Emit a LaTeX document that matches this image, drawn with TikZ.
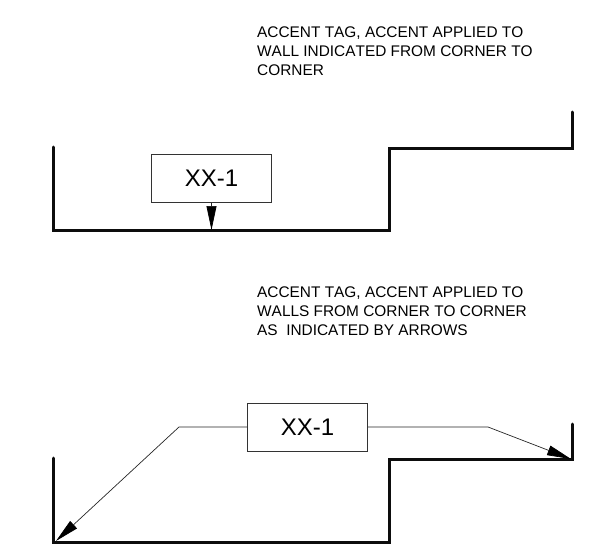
\documentclass[tikz,border=0pt]{standalone}
\usepackage{fontspec}
\setmainfont[Kerning=Off]{Liberation Sans}
\usetikzlibrary{arrows.meta}
\tikzset{
  wall/.style={line width=3pt,line cap=round,line join=miter,black!95},
  tagbox/.style={draw=black!80,line width=0.7pt,fill=white,minimum width=120pt,minimum height=48pt,inner sep=0pt,font=\fontsize{24}{24}\selectfont},
  lead/.style={draw=black!85,line width=0.7pt,-{Triangle[length=24pt,width=10pt,black]}},
  note/.style={anchor=base west,align=left,inner sep=0pt,font=\fontsize{15.4}{19}\selectfont}
}
\begin{document}
\begin{tikzpicture}[x=1pt,y=-1pt]
\useasboundingbox (0,0) rectangle (590,554);
% walls
\draw[wall] (53.5,147) -- (53.5,230.5) -- (389,230.5) -- (389,148) -- (572,148) -- (572,112);
\draw[wall] (53.5,458) -- (53.5,542.5) -- (389,542.5) -- (389,459) -- (572,459) -- (572,424);
% tags
\node[tagbox] (tagA) at (211.5,178.5) {XX-1};
\node[tagbox] (tagB) at (307.5,427) {XX-1};
% targets
\coordinate (wallA) at (211.5,230);
\coordinate (bendL) at (179,427);
\coordinate (cornerL) at (56,541);
\coordinate (bendR) at (488,427);
\coordinate (cornerR) at (571,459);
\draw[lead] (tagA.south) -- (wallA);
\draw[lead] (tagB.west) -- (bendL) -- (cornerL);
\draw[lead] (tagB.east) -- (bendR) -- (cornerR);
% notes
\node[note] (noteA) at (257,75) {ACCENT TAG, ACCENT APPLIED TO\\WALL INDICATED FROM CORNER TO\\CORNER};
\node[note] (noteB) at (257,335) {ACCENT TAG, ACCENT APPLIED TO\\WALLS FROM CORNER TO CORNER\\AS\ \ INDICATED BY ARROWS};
\end{tikzpicture}
\end{document}
